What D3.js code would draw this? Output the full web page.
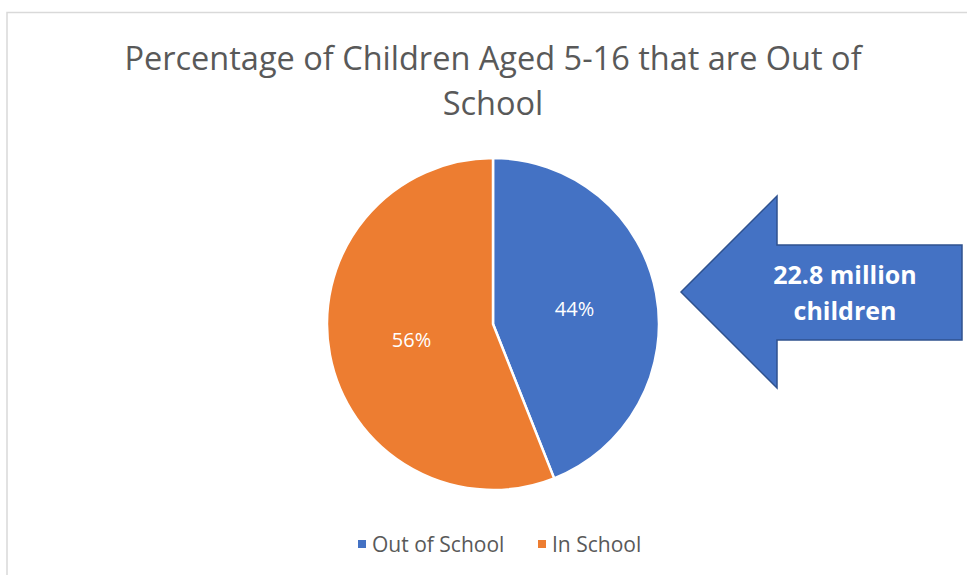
<!DOCTYPE html>
<html>
<head>
<meta charset="utf-8">
<script src="https://cdn.jsdelivr.net/npm/d3@7"></script>
<style>
    body { margin: 0; background: #fff; }
    svg { display: block; font-family: "Open Sans", "Noto Sans", sans-serif; }
</style>
</head>
<body>
<div id="chart"></div>
<script>
const categories = ["Out of School", "In School"]
const values = [44, 56]
const colors = ["#4472C4", "#ED7D31"]
const titleLines = ["Percentage of Children Aged 5-16 that are Out of", "School"]
const calloutLines = ["22.8 million", "children"]

const WIDTH = 967
const HEIGHT = 575

const svg = d3.select("#chart").append("svg")
    .attr("width", WIDTH)
    .attr("height", HEIGHT)

// chart frame
svg.append("rect")
    .attr("x", 7)
    .attr("y", 12.5)
    .attr("width", WIDTH + 20)
    .attr("height", HEIGHT + 20)
    .attr("fill", "#fff")
    .attr("stroke", "#d9d9d9")
    .attr("stroke-width", 1.5)

// title
svg.append("text")
    .attr("x", 493)
    .attr("y", 70)
    .attr("text-anchor", "middle")
    .attr("font-size", "32.5px")
    .attr("fill", "#595959")
    .selectAll("tspan")
    .data(titleLines)
    .enter().append("tspan")
    .attr("x", 493)
    .attr("dy", (d, i) => i === 0 ? 0 : 45)
    .text(d => d)

// pie
const cx = 493, cy = 324, radius = 166
const pie = d3.pie().sort(null).value(d => d)
const arc = d3.arc().innerRadius(0).outerRadius(radius)
const labelArc = d3.arc().innerRadius(radius * 0.5).outerRadius(radius * 0.5)

const g = svg.append("g")
    .attr("transform", `translate(${cx}, ${cy})`)

const arcs = pie(values)

g.selectAll("path")
    .data(arcs)
    .enter().append("path")
    .attr("d", arc)
    .attr("fill", (d, i) => colors[i])
    .attr("stroke", "#fff")
    .attr("stroke-width", 2.5)

g.selectAll("text")
    .data(arcs)
    .enter().append("text")
    .attr("transform", d => `translate(${labelArc.centroid(d)})`)
    .attr("text-anchor", "middle")
    .attr("dominant-baseline", "central")
    .attr("font-size", "20px")
    .attr("fill", "#fff")
    .text(d => d.data + "%")

// callout arrow
const arrow = [[681, 292], [777, 196], [777, 245], [962, 245], [962, 340], [777, 340], [777, 388]]
svg.append("path")
    .attr("d", d3.line()(arrow) + "Z")
    .attr("fill", "#4472C4")
    .attr("stroke", "#2F528F")
    .attr("stroke-width", 1.5)

svg.append("text")
    .attr("x", 845)
    .attr("y", 284)
    .attr("text-anchor", "middle")
    .attr("font-size", "25px")
    .attr("font-weight", "bold")
    .attr("fill", "#fff")
    .selectAll("tspan")
    .data(calloutLines)
    .enter().append("tspan")
    .attr("x", 845)
    .attr("dy", (d, i) => i === 0 ? 0 : 36)
    .text(d => d)

// legend
const legendX = [358, 538]
const legend = svg.append("g")
legend.selectAll("rect")
    .data(categories)
    .enter().append("rect")
    .attr("x", (d, i) => legendX[i])
    .attr("y", 540)
    .attr("width", 8)
    .attr("height", 8)
    .attr("fill", (d, i) => colors[i])

legend.selectAll("text")
    .data(categories)
    .enter().append("text")
    .attr("x", (d, i) => legendX[i] + 14)
    .attr("y", 544)
    .attr("dominant-baseline", "central")
    .attr("font-size", "21px")
    .attr("fill", "#595959")
    .text(d => d)
</script>
</body>
</html>
